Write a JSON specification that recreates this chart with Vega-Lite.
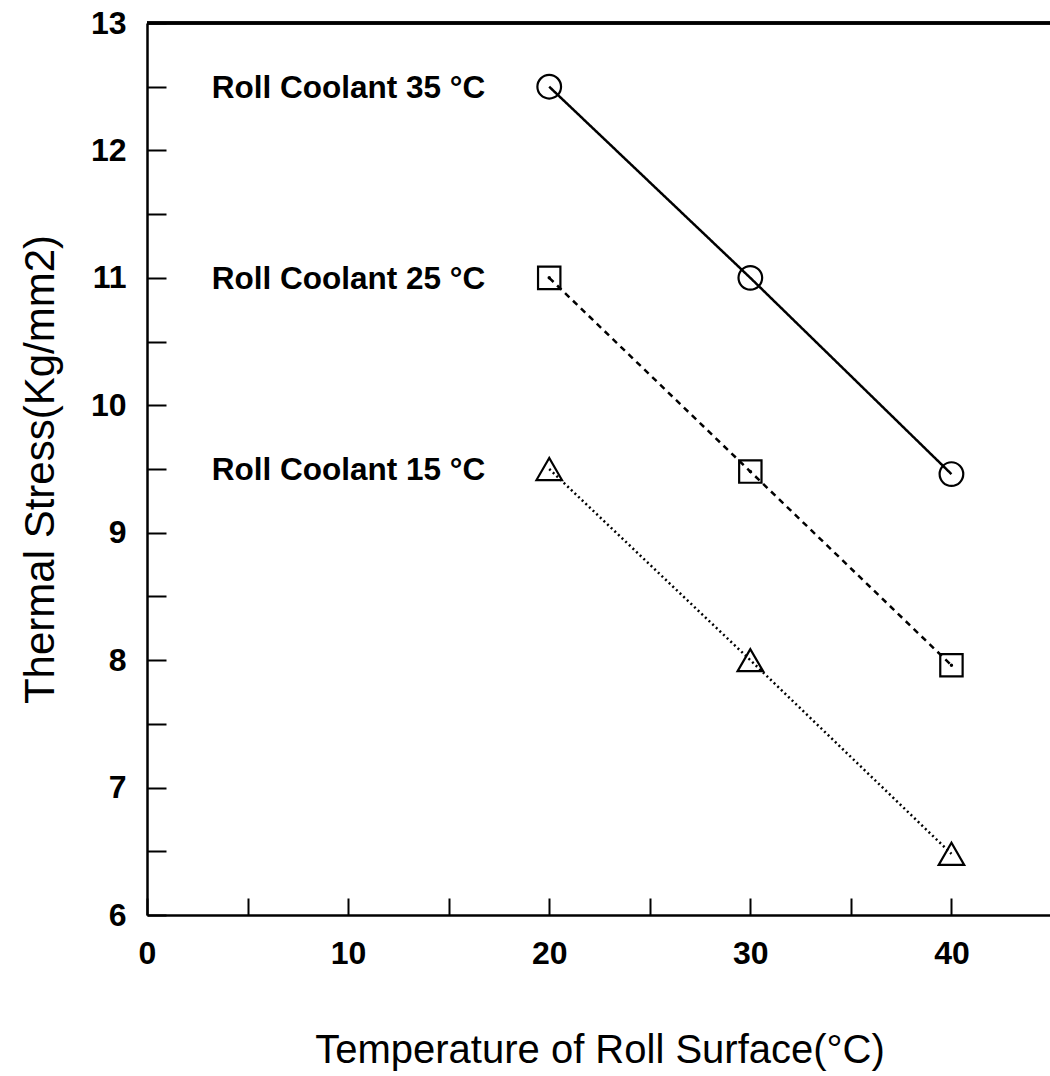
{
  "$schema": "https://vega.github.io/schema/vega-lite/v6.json",
  "autosize": "none",
  "padding": {"left": 147, "top": 23, "right": 0, "bottom": 161},
  "width": 905,
  "height": 892,
  "background": "white",
  "config": {
    "view": {"stroke": null},
    "font": "Liberation Sans"
  },
  "data": {
    "values": [
      {"series": "Roll Coolant 35 °C", "temp": 20, "stress": 12.5},
      {"series": "Roll Coolant 35 °C", "temp": 30, "stress": 11.0},
      {"series": "Roll Coolant 35 °C", "temp": 40, "stress": 9.46},
      {"series": "Roll Coolant 25 °C", "temp": 20, "stress": 11.0},
      {"series": "Roll Coolant 25 °C", "temp": 30, "stress": 9.48},
      {"series": "Roll Coolant 25 °C", "temp": 40, "stress": 7.96},
      {"series": "Roll Coolant 15 °C", "temp": 20, "stress": 9.5},
      {"series": "Roll Coolant 15 °C", "temp": 30, "stress": 8.0},
      {"series": "Roll Coolant 15 °C", "temp": 40, "stress": 6.48}
    ]
  },
  "layer": [
    {
      "mark": {"type": "rule", "color": "black", "strokeWidth": 2.5},
      "encoding": {"y": {"datum": 13, "type": "quantitative"}}
    },
    {
      "mark": {"type": "line", "color": "black", "clip": true},
      "encoding": {
        "x": {
          "field": "temp", "type": "quantitative",
          "scale": {"domain": [0, 45], "nice": false, "zero": false},
          "axis": {
            "title": "Temperature of Roll Surface(°C)",
            "values": [0, 5, 10, 15, 20, 25, 30, 35, 40],
            "labelExpr": "datum.value % 10 === 0 ? format(datum.value, 'd') : ''",
            "grid": false,
            "domainColor": "black", "domainWidth": 2.5,
            "ticks": true,
            "tickColor": "black", "tickWidth": 2, "tickSize": -17,
            "labelFont": "Liberation Sans", "labelFontWeight": "bold", "labelFontSize": 32, "labelColor": "black",
            "labelPadding": 40, "labelFlush": false,
            "titleFont": "Liberation Sans", "titleFontWeight": "normal", "titleFontSize": 40, "titleColor": "black",
            "titleY": 135, "titleBaseline": "middle",
            "encode": {"ticks": {"update": {"y2": {"signal": "datum.value % 10 === 0 ? -17 : -9"}}}}
          }
        },
        "y": {
          "field": "stress", "type": "quantitative",
          "scale": {"domain": [6, 13], "nice": false, "zero": false},
          "axis": {
            "title": "Thermal Stress(Kg/mm2)",
            "values": [6, 6.5, 7, 7.5, 8, 8.5, 9, 9.5, 10, 10.5, 11, 11.5, 12, 12.5, 13],
            "labelExpr": "datum.value % 1 === 0 ? format(datum.value, 'd') : ''",
            "grid": false,
            "domainColor": "black", "domainWidth": 2.5,
            "ticks": true,
            "tickColor": "black", "tickWidth": 2, "tickSize": -19,
            "labelFont": "Liberation Sans", "labelFontWeight": "bold", "labelFontSize": 32, "labelColor": "black",
            "labelPadding": 40, "labelFlush": false,
            "titleFont": "Liberation Sans", "titleFontWeight": "normal", "titleFontSize": 42, "titleColor": "black",
            "titleX": -107, "titleBaseline": "middle",
            "encode": {"ticks": {"update": {"x2": {"signal": "datum.value % 1 === 0 ? 19 : 10"}}}}
          }
        },
        "detail": {"field": "series"},
        "strokeDash": {
          "field": "series", "type": "nominal", "legend": null,
          "scale": {"domain": ["Roll Coolant 35 °C", "Roll Coolant 25 °C", "Roll Coolant 15 °C"], "range": [[1, 0], [6, 5], [2, 3]]}
        },
        "strokeWidth": {
          "field": "series", "type": "nominal", "legend": null,
          "scale": {"domain": ["Roll Coolant 35 °C", "Roll Coolant 25 °C", "Roll Coolant 15 °C"], "range": [2.5, 2.5, 1.5]}
        }
      }
    },
    {
      "transform": [{"filter": "datum.series === 'Roll Coolant 35 °C'"}],
      "mark": {"type": "point", "shape": "circle", "size": 560, "filled": false, "color": "black", "strokeWidth": 2.2, "opacity": 1},
      "encoding": {
        "x": {"field": "temp", "type": "quantitative"},
        "y": {"field": "stress", "type": "quantitative"}
      }
    },
    {
      "transform": [{"filter": "datum.series === 'Roll Coolant 25 °C'"}],
      "mark": {"type": "point", "shape": "square", "size": 500, "filled": false, "color": "black", "strokeWidth": 2.2, "opacity": 1},
      "encoding": {
        "x": {"field": "temp", "type": "quantitative"},
        "y": {"field": "stress", "type": "quantitative"}
      }
    },
    {
      "transform": [{"filter": "datum.series === 'Roll Coolant 15 °C'"}],
      "mark": {"type": "point", "shape": "triangle-up", "size": 650, "filled": false, "color": "black", "strokeWidth": 2.2, "opacity": 1},
      "encoding": {
        "x": {"field": "temp", "type": "quantitative"},
        "y": {"field": "stress", "type": "quantitative"}
      }
    },
    {
      "transform": [{"filter": "datum.series === 'Roll Coolant 25 °C'"}],
      "mark": {"type": "point", "filled": true, "color": "black", "size": 12, "opacity": 1},
      "encoding": {
        "x": {"field": "temp", "type": "quantitative"},
        "y": {"field": "stress", "type": "quantitative"}
      }
    },
    {
      "transform": [{"filter": "datum.temp === 20"}],
      "mark": {"type": "text", "align": "right", "baseline": "middle", "dx": -64, "dy": 2, "font": "Liberation Sans", "fontWeight": "bold", "fontSize": 31.5, "color": "black"},
      "encoding": {
        "x": {"field": "temp", "type": "quantitative"},
        "y": {"field": "stress", "type": "quantitative"},
        "text": {"field": "series"}
      }
    }
  ]
}
